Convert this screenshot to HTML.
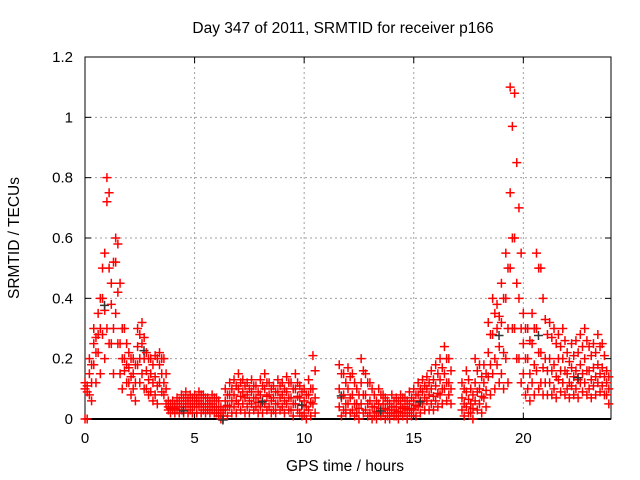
<!DOCTYPE html>
<html><head><meta charset="utf-8"><style>
body{margin:0;background:#fff;}
svg{display:block;font-family:"Liberation Sans",sans-serif;}
</style></head><body>
<svg id="chart" width="640" height="480">
<text x="343" y="33" font-size="15.5" text-anchor="middle" fill="#000">Day 347 of 2011, SRMTID for receiver p166</text>
<g id="grid"></g>
<g id="axes"></g>
<g id="points"></g>
<text x="345" y="471" font-size="15.5" text-anchor="middle">GPS time / hours</text>
<text transform="translate(19,238) rotate(-90)" font-size="15.5" text-anchor="middle">SRMTID / TECUs</text>
</svg>
<script>
const times=[0,0.2,0.4,0.6,0.8,1.0,1.2,1.4,1.6,1.8,2.0,2.2,2.4,2.6,2.8,3.0,3.2,3.4,3.6,3.8,4.0,4.2,4.4,4.6,4.8,5.0,5.2,5.4,5.6,5.8,6.0,6.2,6.4,6.6,6.8,7.0,7.2,7.4,7.6,7.8,8.0,8.2,8.4,8.6,8.8,9.0,9.2,9.4,9.6,9.8,10.0,10.2,10.4,10.6,10.8,11.0,11.2,11.4,11.6,11.8,12.0,12.2,12.4,12.6,12.8,13.0,13.2,13.4,13.6,13.8,14.0,14.2,14.4,14.6,14.8,15.0,15.2,15.4,15.6,15.8,16.0,16.2,16.4,16.6,16.8,17.0,17.2,17.4,17.6,17.8,18.0,18.2,18.4,18.6,18.8,19.0,19.2,19.4,19.6,19.8,20.0,20.2,20.4,20.6,20.8,21.0,21.2,21.4,21.6,21.8,22.0,22.2,22.4,22.6,22.8,23.0,23.2,23.4,23.6,23.8];
const times2=[0.1,0.3,0.5,0.7,0.9,1.1,1.3,1.5,1.7,1.9,2.1,2.3,2.5,2.7,2.9,3.1,3.3,3.5,3.7,3.9,4.1,4.3,4.5,4.7,4.9,5.1,5.3,5.5,5.7,5.9,6.1,6.3,6.5,6.7,6.9,7.1,7.3,7.5,7.7,7.9,8.1,8.3,8.5,8.7,8.9,9.1,9.3,9.5,9.7,9.9,10.1,10.3,10.5,10.7,10.9,11.1,11.3,11.5,11.7,11.9,12.1,12.3,12.5,12.7,12.9,13.1,13.3,13.5,13.7,13.9,14.1,14.3,14.5,14.7,14.9,15.1,15.3,15.5,15.7,15.9,16.1,16.3,16.5,16.7,16.9,17.1,17.3,17.5,17.7,17.9,18.1,18.3,18.5,18.7,18.9,19.1,19.3,19.5,19.7,19.9,20.1,20.3,20.5,20.7,20.9,21.1,21.3,21.5,21.7,21.9,22.1,22.3,22.5,22.7,22.9,23.1,23.3,23.5,23.7,23.9];
const hiVals=[0.12,0.2,0.3,0.35,0.5,0.8,0.45,0.6,0.45,0.3,0.22,0.2,0.3,0.32,0.22,0.2,0.21,0.22,0.2,0.06,0.06,0.07,0.08,0.09,0.08,0.08,0.09,0.08,0.07,0.08,0.07,0.04,0.1,0.12,0.13,0.15,0.13,0.12,0.13,0.11,0.13,0.15,0.12,0.11,0.13,0.12,0.14,0.12,0.15,0.11,0.1,0.13,0.21,null,null,null,null,null,0.18,0.15,0.17,0.15,0.1,0.2,0.15,0.12,0.08,0.1,0.08,0.06,0.08,0.07,0.08,0.07,0.09,0.1,0.12,0.13,0.14,0.16,0.18,0.2,0.24,0.2,null,null,0.12,0.16,0.1,0.2,0.18,0.18,0.32,0.4,0.38,0.45,0.55,1.1,1.08,0.7,0.35,0.3,0.35,0.55,0.5,0.33,0.32,0.3,0.28,0.3,0.22,0.25,0.26,0.28,0.3,0.24,0.25,0.28,0.25,0.16];
const upperMidVals=[0.11,0.18,0.27,0.4,0.55,0.75,0.52,0.58,0.3,0.25,0.2,0.18,0.28,0.27,0.2,0.18,0.2,0.2,0.15,0.05,0.05,0.06,0.07,0.07,0.07,0.07,0.08,0.07,0.06,0.07,0.06,0.03,0.08,0.1,0.11,0.12,0.11,0.1,0.11,0.09,0.11,0.12,0.1,0.09,0.11,0.1,0.12,0.1,0.12,0.09,0.08,0.1,0.16,null,null,null,null,null,0.15,0.12,0.14,0.12,0.08,0.16,0.12,0.1,0.06,0.08,0.07,0.05,0.06,0.06,0.07,0.06,0.07,0.08,0.1,0.11,0.12,0.13,0.15,0.17,0.2,0.16,null,null,0.1,0.13,0.08,0.16,0.14,0.15,0.28,0.35,0.34,0.4,0.5,0.97,0.85,0.55,0.3,0.26,0.3,0.5,0.4,0.28,0.27,0.25,0.24,0.26,0.19,0.21,0.22,0.24,0.26,0.21,0.22,0.24,0.21,0.14];
const midVals=[0.1,0.15,0.25,0.28,0.4,0.72,0.38,0.52,0.25,0.2,0.17,0.15,0.24,0.25,0.16,0.15,0.14,0.18,0.12,0.04,0.04,0.05,0.05,0.06,0.05,0.06,0.06,0.05,0.05,0.05,0.04,0.02,0.06,0.08,0.08,0.1,0.09,0.08,0.09,0.07,0.08,0.1,0.08,0.07,0.09,0.08,0.09,0.07,0.1,0.07,0.06,0.08,0.1,null,null,null,null,null,0.1,0.08,0.1,0.08,0.05,0.12,0.08,0.06,0.04,0.05,0.05,0.03,0.04,0.04,0.05,0.04,0.05,0.06,0.08,0.09,0.1,0.1,0.11,0.13,0.15,0.12,null,null,0.07,0.09,0.05,0.12,0.1,0.12,0.22,0.28,0.3,0.32,0.4,0.75,0.6,0.4,0.25,0.2,0.25,0.3,0.22,0.2,0.2,0.18,0.2,0.2,0.15,0.17,0.16,0.18,0.2,0.16,0.17,0.18,0.17,0.12];
const lowerMidVals=[0.09,0.12,0.22,0.3,0.36,0.5,0.3,0.42,0.2,0.18,0.14,0.12,0.2,0.2,0.13,0.12,0.11,0.15,0.1,0.035,0.035,0.04,0.04,0.05,0.04,0.05,0.05,0.04,0.04,0.04,0.03,0.01,0.045,0.06,0.06,0.075,0.07,0.06,0.07,0.055,0.06,0.075,0.06,0.05,0.07,0.06,0.07,0.05,0.075,0.045,0.04,0.055,0.07,null,null,null,null,null,0.07,0.05,0.07,0.05,0.035,0.08,0.05,0.04,0.025,0.035,0.035,0.02,0.03,0.025,0.035,0.03,0.035,0.045,0.06,0.07,0.08,0.075,0.085,0.1,0.12,0.1,null,null,0.05,0.065,0.035,0.09,0.075,0.095,0.18,0.2,0.24,0.22,0.3,0.6,0.45,0.3,0.2,0.15,0.18,0.22,0.17,0.16,0.16,0.14,0.16,0.16,0.12,0.14,0.13,0.15,0.16,0.13,0.14,0.15,0.14,0.1];
const loVals=[0.0,0.08,0.18,0.22,0.28,0.3,0.25,0.35,0.15,0.16,0.12,0.1,0.18,0.15,0.1,0.09,0.08,0.12,0.08,0.03,0.03,0.03,0.03,0.04,0.03,0.04,0.04,0.03,0.03,0.03,0.02,0.0,0.03,0.04,0.04,0.05,0.05,0.04,0.05,0.04,0.04,0.05,0.04,0.03,0.05,0.04,0.05,0.03,0.05,0.02,0.02,0.03,0.05,null,null,null,null,null,0.04,0.03,0.05,0.03,0.02,0.05,0.03,0.02,0.01,0.02,0.02,0.01,0.02,0.01,0.02,0.02,0.02,0.03,0.04,0.05,0.06,0.05,0.06,0.08,0.1,0.08,null,null,0.03,0.04,0.02,0.06,0.05,0.07,0.14,0.15,0.18,0.15,0.2,0.5,0.3,0.2,0.15,0.1,0.12,0.16,0.12,0.12,0.12,0.1,0.13,0.12,0.1,0.11,0.1,0.12,0.12,0.1,0.11,0.12,0.11,0.08];
const lowBandVals=[0.0,0.06,0.12,0.15,0.2,0.25,0.15,0.25,0.1,0.12,0.08,0.06,0.12,0.1,0.08,0.06,0.05,0.09,0.05,0.02,0.02,0.02,0.02,0.02,0.02,0.02,0.02,0.02,0.02,0.02,0.01,0.0,0.01,0.02,0.02,0.03,0.02,0.02,0.03,0.02,0.02,0.03,0.02,0.02,0.03,0.02,0.03,0.01,0.03,0.01,0.0,0.01,0.02,null,null,null,null,null,0.01,0.02,0.02,0.01,0.0,0.02,0.01,0.0,0.0,0.01,0.0,0.0,0.01,0.0,0.01,0.0,0.01,0.01,0.02,0.03,0.03,0.03,0.04,0.05,0.06,0.05,null,null,0.01,0.02,0.0,0.03,0.02,0.04,0.08,0.1,0.12,0.1,0.12,0.3,0.2,0.12,0.08,0.06,0.08,0.1,0.08,0.08,0.08,0.07,0.09,0.08,0.07,0.08,0.07,0.09,0.08,0.07,0.08,0.09,0.08,0.05];
const xTicks=[0,5,10,15,20];
const yTicks=[0,0.2,0.4,0.6,0.8,1,1.2];
const yTickLabels=["0","0.2","0.4","0.6","0.8","1","1.2"];

const X0=85,X1=611,Y0=419,Y1=57,XMAX=24,YMAX=1.2;
const xs=v=>X0+(v/XMAX)*(X1-X0);
const ys=v=>Y0-(v/YMAX)*(Y0-Y1);
const NS="http://www.w3.org/2000/svg";
function mk(tag,attrs,parent){const e=document.createElementNS(NS,tag);for(const k in attrs)e.setAttribute(k,attrs[k]);parent.appendChild(e);return e;}
const grid=document.getElementById('grid'),axes=document.getElementById('axes'),pts=document.getElementById('points');
xTicks.forEach(t=>{
  if(t>0){const l=mk('line',{x1:xs(t),x2:xs(t),y1:Y1,y2:Y0,stroke:'#a0a0a0','stroke-dasharray':'2,3'},grid);
  
  }
  const tx=mk('text',{x:xs(t),y:Y0+24,'font-size':15,'text-anchor':'middle'},axes);tx.textContent=t;
  
  
  mk('line',{x1:xs(t),x2:xs(t),y1:Y0,y2:Y0-6,stroke:'#000'},axes);
  mk('line',{x1:xs(t),x2:xs(t),y1:Y1,y2:Y1+6,stroke:'#000'},axes);
});
yTicks.forEach((t,i)=>{
  if(t>0&&t<YMAX){const l=mk('line',{x1:X0,x2:X1,y1:ys(t),y2:ys(t),stroke:'#a0a0a0','stroke-dasharray':'2,3'},grid);
  
  }
  const tx=mk('text',{x:X0-12,y:ys(t)+5,'font-size':15,'text-anchor':'end'},axes);tx.textContent=yTickLabels[i];
  
  
  mk('line',{x1:X0,x2:X0+6,y1:ys(t),y2:ys(t),stroke:'#000'},axes);
  mk('line',{x1:X1,x2:X1-6,y1:ys(t),y2:ys(t),stroke:'#000'},axes);
});
const frame=mk('rect',{x:X0,y:Y1,width:X1-X0,height:Y0-Y1,fill:'none',stroke:'#000'},axes);


mk('line',{x1:X0,x2:X1,y1:Y0,y2:Y0,stroke:'#000','stroke-width':2},axes);
function plus(x,y,c){const p=mk('path',{d:`M${x-4.5} ${y}h9M${x} ${y-4.5}v9`,stroke:c,'stroke-width':1.5},pts);
  
  }
[[times,loVals],[times2,lowBandVals],[times2,lowerMidVals],[times,midVals],[times2,upperMidVals],[times,hiVals]].forEach((pair,k)=>{
  const tArr=pair[0],arr=pair[1];
  tArr.forEach((t,i)=>{const v=arr[i];if(v===null)return;
    plus(xs(t),ys(v),'#ff0000');
    if(k===3&&i%9===4)plus(xs(t)+2,ys(v)+7,'#333333');
  });
});
</script>
</body></html>
